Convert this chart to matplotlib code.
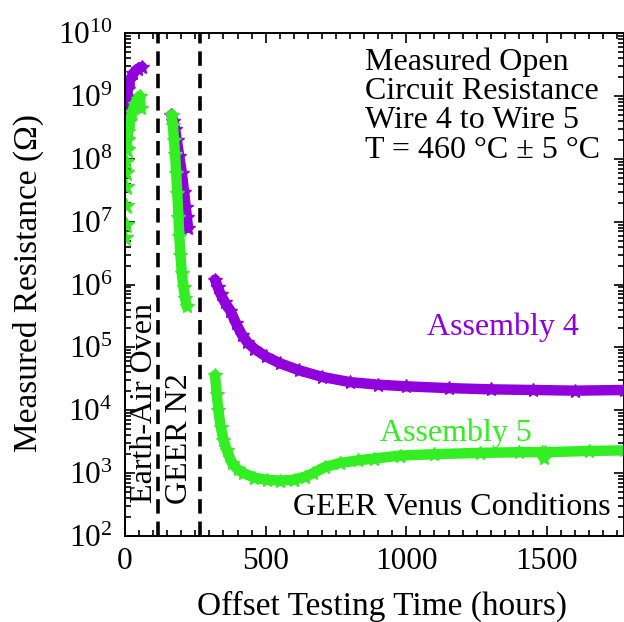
import matplotlib
matplotlib.use("Agg")
import matplotlib.pyplot as plt
from matplotlib.ticker import MultipleLocator, LogLocator, NullFormatter

plt.rcParams["font.family"] = ["Liberation Serif", "DejaVu Serif"]
plt.rcParams["mathtext.fontset"] = "stix"

PURPLE = "#8f00dc"
GREEN = "#33ee22"

# Assembly 4, open circuit resistance (ohm) vs offset time (hours)
a4_oven_hours = [1, 3, 6, 10, 18, 30, 45, 60]
a4_oven_ohm = [2.2e8, 5e8, 9e8, 1.3e9, 1.8e9, 2.3e9, 2.7e9, 2.9e9]
a4_n2_hours = [165, 172, 178, 184, 193, 202, 210, 216, 220, 224]
a4_n2_ohm = [5e8, 4e8, 3e8, 2e8, 1.1e8, 6e7, 3e7, 1.7e7, 1.2e7, 8e6]
a4_venus_hours = [320, 330, 340, 355, 375, 395, 415, 435, 460, 500, 550, 620,
                  700, 800, 900, 1000, 1150, 1300, 1450, 1600, 1772]
a4_venus_ohm = [1.2e6, 9e5, 7e5, 5.2e5, 3.8e5, 2.4e5, 1.6e5, 1.2e5, 9.5e4,
                7.2e4, 5.6e4, 4.3e4, 3.4e4, 2.8e4, 2.55e4, 2.4e4, 2.25e4,
                2.15e4, 2.1e4, 2.05e4, 2.1e4]

# Assembly 5
a5_start_hours = [1.5, 2, 2.5, 3, 4, 5, 6, 8]
a5_start_ohm = [5.5e6, 9e6, 1.8e7, 3.5e7, 6e7, 9e7, 1.4e8, 2e8]
a5_oven_hours = [8, 12, 18, 25, 35, 45, 52, 56]
a5_oven_ohm = [2e8, 2.8e8, 4e8, 5.5e8, 7.5e8, 9e8, 1e9, 6.5e8]
a5_n2_hours = [166, 170, 174, 178, 182, 186, 190, 193, 197, 202, 208, 214, 219]
a5_n2_ohm = [5e8, 3.5e8, 2e8, 1.2e8, 6e7, 2.9e7, 1.2e7, 6e6, 3e6, 1.5e6,
             9e5, 6e5, 4.5e5]
a5_venus_hours = [320, 326, 332, 340, 350, 362, 380, 400, 421, 460, 504, 550,
                  599, 640, 670, 710, 765, 830, 884, 979, 1100, 1263, 1400,
                  1482, 1488, 1494, 1650, 1772]
a5_venus_ohm = [3.6e4, 1.8e4, 1e4, 5.5e3, 3.4e3, 2.3e3, 1.45e3, 1.15e3, 1e3,
                8.5e2, 7.8e2, 7.6e2, 7.8e2, 8.8e2, 1e3, 1.25e3, 1.45e3, 1.6e3,
                1.7e3, 1.9e3, 2e3, 2.1e3, 2.15e3, 2.15e3, 1.75e3, 2.15e3,
                2.25e3, 2.3e3]

# boundaries between test environments (hours)
phase_bounds = [118, 267]

fig = plt.figure(figsize=(6.24, 6.22), dpi=100)
ax = fig.add_axes([0.2003, 0.1383, 0.7989, 0.8086])


def band(x, y, color):
    ax.plot(x, y, color=color, lw=7.5, marker="*", ms=10,
            solid_capstyle="round", solid_joinstyle="round")


band(a4_oven_hours, a4_oven_ohm, PURPLE)
band(a4_n2_hours, a4_n2_ohm, PURPLE)
band(a4_venus_hours, a4_venus_ohm, PURPLE)
ax.plot(a5_start_hours, a5_start_ohm, ls="none", marker="*", ms=12,
        color=GREEN)
band(a5_oven_hours, a5_oven_ohm, GREEN)
band(a5_n2_hours, a5_n2_ohm, GREEN)
band(a5_venus_hours, a5_venus_ohm, GREEN)

for b in phase_bounds:
    ax.axvline(b, color="black", lw=2.6, ls=(0, (4, 2.2)))

ax.set_yscale("log")
ax.set_xlim(0, 1772)
ax.set_ylim(1e2, 1e10)

ax.xaxis.set_major_locator(MultipleLocator(500))
ax.xaxis.set_minor_locator(MultipleLocator(50))
ax.yaxis.set_major_locator(LogLocator(base=10, numticks=20))
ax.yaxis.set_minor_locator(LogLocator(base=10, subs=range(2, 10), numticks=20))
ax.yaxis.set_minor_formatter(NullFormatter())
ax.tick_params(which="both", direction="in", top=True, right=True,
               labelsize=22.5, width=1.2)
ax.tick_params(which="major", length=7)
ax.tick_params(which="minor", length=4)
ax.tick_params(axis="x", pad=8)
ax.tick_params(axis="y", pad=9)
for s in ax.spines.values():
    s.set_linewidth(1.4)

ax.set_xlabel("Offset Testing Time (hours)", fontsize=24)
ax.set_ylabel("Measured Resistance (\u03a9)", fontsize=24)
ax.xaxis.set_label_coords(0.516, -0.108)
ax.yaxis.set_label_coords(-0.163, 0.503)

ax.text(0.482, 0.972,
        "Measured Open\nCircuit Resistance\nWire 4 to Wire 5\nT = 460 \u00b0C \u00b1 5 \u00b0C",
        transform=ax.transAxes, ha="left", va="top", fontsize=23,
        linespacing=1.02)
ax.text(0.606, 0.3996, "Assembly 4", color=PURPLE, transform=ax.transAxes,
        fontsize=23, va="baseline")
ax.text(0.512, 0.189, "Assembly 5", color=GREEN, transform=ax.transAxes,
        fontsize=23, va="baseline")
ax.text(0.337, 0.042, "GEER Venus Conditions", transform=ax.transAxes,
        fontsize=23, va="baseline")
ax.text(68, 0.0656, "Earth-Air Oven", transform=ax.get_xaxis_transform(),
        rotation=90, ha="center", va="bottom", fontsize=23)
ax.text(192, 0.0636, "GEER N2", transform=ax.get_xaxis_transform(),
        rotation=90, ha="center", va="bottom", fontsize=23)

fig.savefig("out.png", dpi=100)
